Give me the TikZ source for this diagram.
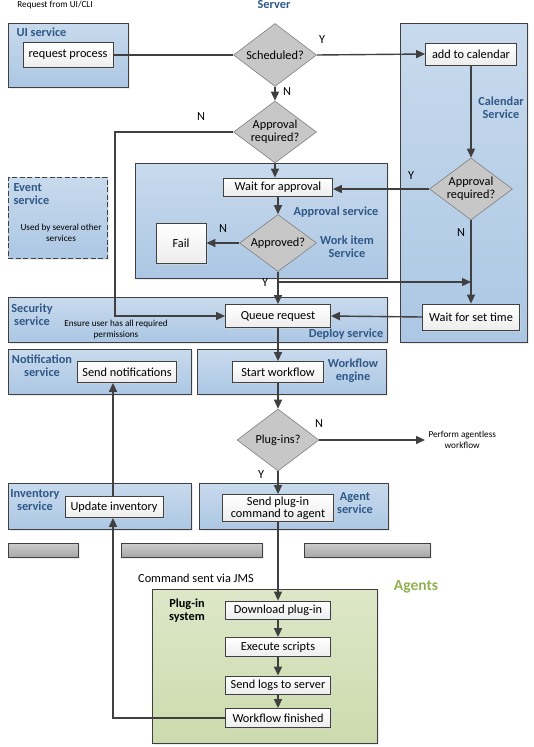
\documentclass[tikz,border=0pt]{standalone}
\usepackage{fontspec}
\setmainfont{Carlito}
\usepackage{tikz}
\usetikzlibrary{shapes.geometric,arrows.meta,shadows}
\definecolor{svcblue}{RGB}{47,88,135}
\definecolor{agentgreen}{RGB}{146,176,80}
\definecolor{lineg}{RGB}{64,64,64}
\definecolor{regtop}{RGB}{200,218,237}
\definecolor{regbot}{RGB}{172,199,228}
\newcommand{\boxfont}{\fontsize{12.3}{13}\selectfont}
\newcommand{\notefont}{\fontsize{9.2}{11}\selectfont}
\tikzset{
	region/.style={draw=lineg, line width=0.8pt, top color=regtop, bottom color=regbot,
		drop shadow={shadow xshift=2pt, shadow yshift=-2pt, fill=black!15},
		anchor=north west, inner sep=0pt},
	greybar/.style={draw=lineg, line width=0.8pt, top color=black!20, bottom color=black!35,
		drop shadow={shadow xshift=2pt, shadow yshift=-2pt, fill=black!12},
		anchor=north west, inner sep=0pt, minimum height=14pt},
	procbox/.style={draw=lineg, line width=0.8pt, top color=white, bottom color=black!7,
		drop shadow={shadow xshift=1.5pt, shadow yshift=-1.5pt, fill=black!15},
		inner sep=0pt, align=center, font=\boxfont},
	decision/.style={diamond, draw=black!50, line width=0.6pt, fill=black!22, aspect=1.33,
		inner sep=-4pt, align=center, font=\boxfont},
	svclabel/.style={font=\bfseries\boxfont, text=svcblue, align=center},
	note/.style={font=\notefont, align=center},
	yn/.style={font=\boxfont},
	flow/.style={draw=lineg, line width=1.4pt, -{Triangle[length=9pt,width=8pt]}},
	link/.style={draw=lineg, line width=1.4pt}
}

\begin{document}
\begin{tikzpicture}[x=1pt,y=-1pt]
	\useasboundingbox (0,0) rectangle (533,747);
	% service containers
	\node[region, minimum width=120pt, minimum height=64pt] (uireg) at (8,23) {};
	\node[region, minimum width=127pt, minimum height=319pt] (calreg) at (400,23) {};
	\node[region, minimum width=252pt, minimum height=115pt] (apprreg) at (135,163) {};
	\node[region, dashed, dash pattern=on 5pt off 2.5pt, minimum width=99pt, minimum height=81pt] (eventreg) at (8,177) {};
	\node[region, minimum width=379pt, minimum height=45pt] (deployreg) at (8,297) {};
	\node[region, minimum width=183pt, minimum height=45pt] (notifreg) at (8,349) {};
	\node[region, minimum width=189pt, minimum height=45pt] (wfreg) at (197,349) {};
	\node[region, minimum width=183pt, minimum height=46pt] (invreg) at (8,483) {};
	\node[region, minimum width=189pt, minimum height=46pt] (agentreg) at (199,483) {};
	\foreach \bx/\bw in {8/70,121/141,304/126}{
		\node[greybar, minimum width=\bw pt] (bar\bx) at (\bx,543) {};}
	\node[region, top color={rgb,255:red,221;green,231;blue,200}, bottom color={rgb,255:red,204;green,219;blue,173},
		minimum width=225pt, minimum height=154pt] (plugreg) at (152,589) {};

	% titles and notes
	\node[note] (fromui) at (55,5) {Request from UI/CLI};
	\node[svclabel] (server) at (274,5) {Server};
	\node[svclabel, anchor=west] (uilab) at (13,32) {UI service};
	\node[svclabel] (callab) at (501,108) {Calendar\\Service};
	\node[svclabel] (apprlab) at (336,212) {Approval service};
	\node[svclabel] (worklab) at (347,247) {Work item\\Service};
	\node[svclabel, align=left, anchor=west] (eventlab) at (10,194) {Event\\service};
	\node[note] (eventnote) at (61,233) {Used by several other\\services};
	\node[svclabel] (seclab) at (32,315) {Security\\service};
	\node[note] (secnote) at (116,330) {Ensure user has all required\\permissions};
	\node[svclabel] (deploylab) at (346,334) {Deploy service};
	\node[svclabel] (notiflab) at (42,366) {Notification\\service};
	\node[svclabel] (wflab) at (353,371) {Workflow\\engine};
	\node[svclabel] (invlab) at (35,500) {Inventory\\service};
	\node[svclabel] (agentlab) at (355,503) {Agent\\service};
	\node[font=\bfseries\boxfont, align=center] (pluglab) at (187,611) {Plug-in\\system};
	\node[font=\bfseries\fontsize{15.5}{17}\selectfont, text=agentgreen] (agents) at (416,587) {Agents};
	\node[yn] (jms) at (196,578) {Command sent via JMS};
	\node[note, anchor=west] (agentless) at (425,440) {Perform agentless\\workflow};

	% steps
	\node[procbox, minimum width=90pt, minimum height=25pt] (req) at (68,55) {request process};
	\node[procbox, minimum width=91pt, minimum height=22pt] (cal) at (471,54) {add to calendar};
	\node[procbox, minimum width=109pt, minimum height=18pt] (waitappr) at (278,187) {Wait for approval};
	\node[procbox, minimum width=50pt, minimum height=40pt] (fail) at (181,243) {Fail};
	\node[procbox, minimum width=105pt, minimum height=23pt] (queue) at (278,316) {Queue request};
	\node[procbox, minimum width=97pt, minimum height=26pt] (waitset) at (471,317) {Wait for set time};
	\node[procbox, minimum width=99pt, minimum height=21pt] (notif) at (127,372) {Send notifications};
	\node[procbox, minimum width=91pt, minimum height=21pt] (startwf) at (278,372) {Start workflow};
	\node[procbox, minimum width=98pt, minimum height=21pt] (updinv) at (114,507) {Update inventory};
	\node[procbox, minimum width=111pt, minimum height=27pt, font=\fontsize{12.3}{12.3}\selectfont] (sendcmd) at (278,508) {Send plug-in\\command to agent};
	\node[procbox, minimum width=105pt, minimum height=18pt] (download) at (278,610) {Download plug-in};
	\node[procbox, minimum width=105pt, minimum height=19pt] (execute) at (278,647) {Execute scripts};
	\node[procbox, minimum width=105pt, minimum height=18pt] (sendlogs) at (278,685) {Send logs to server};
	\node[procbox, minimum width=105pt, minimum height=19pt] (finished) at (278,718) {Workflow finished};

	% decisions
	\node[decision, minimum width=83pt, minimum height=63pt] (sched) at (275,55) {Scheduled?};
	\node[decision, minimum width=83pt, minimum height=62pt] (apprq) at (275,132) {Approval\\required?};
	\node[decision, minimum width=83pt, minimum height=62pt] (apprq2) at (471,189) {Approval\\required?};
	\node[decision, minimum width=77pt, minimum height=57pt] (approved) at (278,243) {Approved?};
	\node[decision, minimum width=82pt, minimum height=62pt] (plugins) at (278,440) {Plug-ins?};

	% branch labels
	\node[yn] (ysched) at (322,40) {Y};
	\node[yn] (nsched) at (287,92) {N};
	\node[yn] (nappr) at (201,117) {N};
	\node[yn] (yappr2) at (411,176) {Y};
	\node[yn] (nappr2) at (461,233) {N};
	\node[yn] (napproved) at (223,229) {N};
	\node[yn] (yapproved) at (265,283) {Y};
	\node[yn] (nplug) at (319,424) {N};
	\node[yn] (yplug) at (261,475) {Y};

	% connectors
	\coordinate (leftrun) at (115,132);
	\coordinate (ybranch) at (278,282);
	\coordinate (backrun) at (113,718);
	\draw[link] (req.east) -- (sched.west);
	\draw[flow] (sched.east) -- (cal.west);
	\draw[flow] (sched.south) -- (apprq.north);
	\draw[flow] (apprq.west) -- (leftrun) |- (queue.west);
	\draw[flow] (apprq.south) -- (waitappr.north -| apprq.south);
	\draw[flow] (cal.south) -- (apprq2.north);
	\draw[flow] (apprq2.west) -- (apprq2.west -| waitappr.east);
	\draw[flow] (apprq2.south) -- (waitset.north);
	\draw[flow] (waitappr.south) -- (approved.north);
	\draw[flow] (approved.west) -- (fail.east);
	\draw[flow] (approved.south) -- (queue.north);
	\draw[flow] (ybranch) -- (ybranch -| apprq2.south);
	\draw[flow] (waitset.west) -- (queue.east);
	\draw[flow] (queue.south) -- (startwf.north);
	\draw[flow] (startwf.south) -- (plugins.north);
	\draw[flow] (plugins.east) -- (agentless.west);
	\draw[flow] (plugins.south) -- (sendcmd.north);
	\foreach \a/\b in {sendcmd/download,download/execute,execute/sendlogs,sendlogs/finished}{
		\draw[flow] (\a.south) -- (\b.north);}
	\draw[flow] (finished.west) -- (backrun) -- (backrun |- updinv.south);
	\draw[flow] (backrun |- updinv.north) -- (backrun |- notif.south);
\end{tikzpicture}
\end{document}
